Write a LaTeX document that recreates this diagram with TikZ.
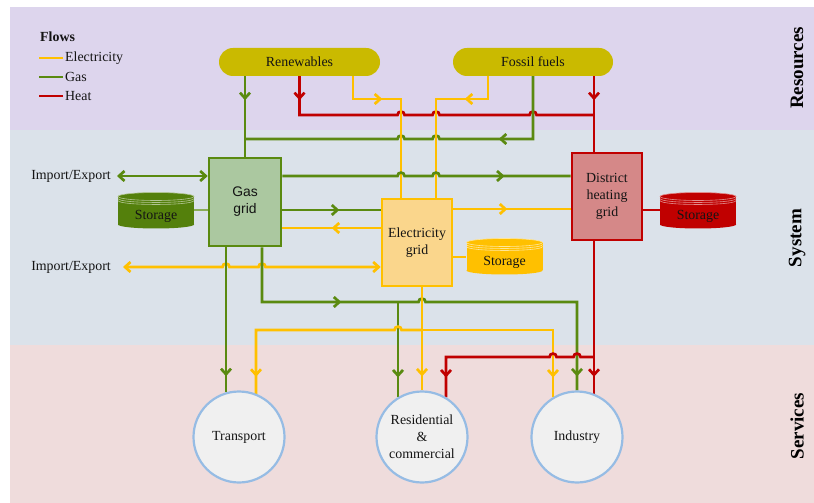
\documentclass[tikz,border=0pt]{standalone}
\usepackage{fontspec}
\setmainfont{Liberation Serif}
\newfontfamily\arialf{Liberation Sans}
\usetikzlibrary{arrows.meta,decorations.markings}
\pgfdeclarelayer{bands}
\pgfdeclarelayer{lines}
\pgfsetlayers{bands,lines,main}

\definecolor{gasc}{RGB}{90,138,16}
\definecolor{elc}{RGB}{255,192,0}
\definecolor{heatc}{RGB}{192,0,0}
\definecolor{gasfill}{RGB}{171,200,160}
\definecolor{elfill}{RGB}{250,214,140}
\definecolor{dhfill}{RGB}{213,136,136}
\definecolor{resfill}{RGB}{202,186,0}
\definecolor{bandR}{RGB}{221,213,237}
\definecolor{bandS}{RGB}{219,226,234}
\definecolor{bandV}{RGB}{239,220,220}
\definecolor{circfill}{RGB}{240,240,240}
\definecolor{circline}{RGB}{150,188,228}
\definecolor{txt}{RGB}{20,20,20}
\definecolor{gstorc}{RGB}{84,128,12}

\newcommand\nfs{\fontsize{13.9bp}{17bp}\selectfont}
\newcommand\hopR[2]{-- ({#1-3.5},#2) .. controls ({#1-3.5},{#2-4.5}) and ({#1+3.5},{#2-4.5}) .. ({#1+3.5},#2)}
\newcommand\hopL[2]{-- ({#1+3.5},#2) .. controls ({#1+3.5},{#2-4.5}) and ({#1-3.5},{#2-4.5}) .. ({#1-3.5},#2)}

\tikzset{
  >={Straight Barb[length=5.5bp,width=10bp]},
  flow/.style={line width=2.7bp},
  gasf/.style={flow, draw=gasc},
  elf/.style={flow, draw=elc},
  heatf/.style={flow, draw=heatc},
  marr/.style={postaction={decorate,decoration={markings,mark=at position #1 with {\arrow{Straight Barb[length=5.5bp,width=10bp]}}}}},
  src/.style={fill=resfill, rounded corners=14bp, minimum width=161bp, minimum height=28bp, inner sep=0, font=\nfs, text=txt},
  gridbox/.style={line width=2.6bp, minimum width=70bp, minimum height=87bp, inner sep=0, align=center, text=txt, font=\nfs},
  svc/.style={circle, draw=circline, fill=circfill, line width=2.2bp, minimum size=91bp, inner sep=0, align=center, font=\nfs, text=txt},
  lbl/.style={font=\nfs, text=txt, inner sep=2bp},
  sect/.style={rotate=90, font=\fontsize{19bp}{21bp}\selectfont\bfseries, text=black},
  tap/.style={line width=1.8bp}
}

\newcommand\storagecyl[5]{%
  \fill[#4] ({#2-38},{#3-14}) rectangle ({#2+38},{#3+14});
  \fill[#4] (#2,{#3+14}) ellipse [x radius=38, y radius=4];
  \fill[#4] (#2,{#3-14}) ellipse [x radius=38, y radius=4];
  \draw[#5, line width=0.6bp] (#2,{#3-14}) ellipse [x radius=38, y radius=4];
  \foreach \k in {2,4} {\draw[#5, line width=0.6bp] ({#2-38},{#3-14+\k}) .. controls ({#2-38},{#3-14+\k+5.3}) and ({#2+38},{#3-14+\k+5.3}) .. ({#2+38},{#3-14+\k});}
  \node[inner sep=0, minimum width=76bp, minimum height=37bp] (#1) at (#2,#3) {};
  \node[lbl] (#1t) at (#2,{#3+5.5}) {Storage};
}

\begin{document}
\begin{tikzpicture}[x=1bp,y=-1bp]
\useasboundingbox (0,0) rectangle (814,503);
\begin{pgfonlayer}{bands}
  \fill[white] (0,0) rectangle (814,503);
  \fill[bandR] (10,7) rectangle (814,130);
  \fill[bandS] (10,130) rectangle (814,345);
  \fill[bandV] (10,345) rectangle (814,503);
\end{pgfonlayer}

% legend
\node[lbl, anchor=west, font=\nfs\bfseries] (flows) at (38,37) {Flows};
\node[lbl, anchor=west] (lel) at (63,58) {Electricity};
\node[lbl, anchor=west] (lgas) at (63,77) {Gas};
\node[lbl, anchor=west] (lheat) at (63,96) {Heat};
\draw[elf] (lel.west) -- ++(-24,0);
\draw[gasf] (lgas.west) -- ++(-24,0);
\draw[heatf] (lheat.west) -- ++(-24,0);

% section labels
\node[sect] (sres) at (797,68) {Resources};
\node[sect] (ssys) at (797,238) {System};
\node[sect] (ssvc) at (797,426) {Services};

% resources
\node[src] (ren) at (299.5,62) {Renewables};
\node[src, minimum width=160bp] (fos) at (533,62) {Fossil fuels};

% grids
\node[gridbox, draw=gasc, fill=gasfill, minimum width=72bp, minimum height=88bp, font=\arialf\nfs] (gas) at (245,202) {Gas\\grid};
\node[gridbox, draw=elc, fill=elfill] (elec) at (417,242.5) {Electricity\\grid};
\node[gridbox, draw=heatc, fill=dhfill] (dh) at (607,196.5) {District\\heating\\grid};

% storage
\storagecyl{gstor}{156}{210.5}{gstorc}{gstorc!45!white}
\storagecyl{estor}{504.5}{256.5}{elc}{elc!40!white}
\storagecyl{hstor}{698}{210.5}{heatc}{heatc!45!white}

% services
\node[svc] (trans) at (239,437) {Transport};
\node[svc] (res) at (422,437) {Residential\\\&\\commercial};
\node[svc] (ind) at (577,437) {Industry};

% import / export
\node[lbl, anchor=east] (ie1) at (113,176) {Import/Export};
\node[lbl, anchor=east] (ie2) at (113,267) {Import/Export};

\begin{pgfonlayer}{lines}
% storage taps
\draw[tap, draw=gasc!70!white] (gstor.east |- 0,210) -- (gas.west |- 0,210);
\draw[tap, draw=elc] (elec.east |- 0,257) -- (estor.west |- 0,257);
\draw[tap, draw=heatc] (dh.east |- 0,210) -- (hstor.west |- 0,210);

% from resources
\draw[gasf, marr=24bp] (ren.south -| gas.north) -- (gas.north);
\draw[heatf, marr=24bp] (ren.south) -- (ren.south |- 0,115) \hopR{401}{115} \hopR{436}{115} \hopR{533}{115} -- (594,115);
\draw[heatf, marr=24bp] (fos.south -| 594,0) -- (dh.north -| 594,0);
\draw[gasf, marr=97bp] (fos.south) -- (fos.south |- 0,139) \hopL{436}{139} \hopL{401}{139} -- (gas.north |- 0,139);
\draw[elf, marr=52bp] (ren.south -| 353,0) -- (353,99) -- (401,99) -- (401,0 |- elec.north);
\draw[elf, marr=46bp] (fos.south -| 488,0) -- (488,99) -- (436,99) -- (436,0 |- elec.north);

% system
\draw[gasf, marr=230bp] (gas.east |- 0,176) \hopR{401}{176} \hopR{436}{176} -- (dh.west |- 0,176);
\draw[gasf, marr=57bp] (gas.east |- 0,210) -- (elec.west |- 0,210);
\draw[elf, marr=49bp] (elec.west |- 0,228) -- (gas.east |- 0,228);
\draw[elf, marr=54bp] (elec.east |- 0,209) -- (dh.west |- 0,209);
\draw[gasf, <->] ([xshift=4bp]ie1.east) -- (gas.west |- ie1.east);
\draw[elf, <->] ([xshift=10bp]ie2.east) \hopR{226}{267} \hopR{262}{267} -- (elec.west |- ie2.east);

% to services
\draw[gasf, marr=-16bp] (gas.south -| 226,0) -- (226,0 |- trans.106);
\draw[gasf, marr=134bp, marr=-14bp] (gas.south -| 262,0) -- (262,302) \hopR{422}{302} -- (577,302) -- (ind.north);
\draw[gasf, marr=-20bp] (398,302) -- (398,0 |- res.122);
\draw[elf, marr=-14bp] (elec.south -| res.north) -- (res.north);
\draw[elf, marr=-17bp] (422,330) \hopL{398}{330} -- (256,330) -- (256,0 |- trans.68);
\draw[elf, marr=-20bp] (422,330) -- (553,330) -- (553,0 |- ind.122);
\draw[heatf, marr=-17bp] (dh.south -| 594,0) -- (594,0 |- ind.68);
\draw[heatf, marr=-20bp] (594,357) \hopL{577}{357} \hopL{553}{357} -- (446,357) -- (446,0 |- res.58);
\end{pgfonlayer}
\end{tikzpicture}
\end{document}
